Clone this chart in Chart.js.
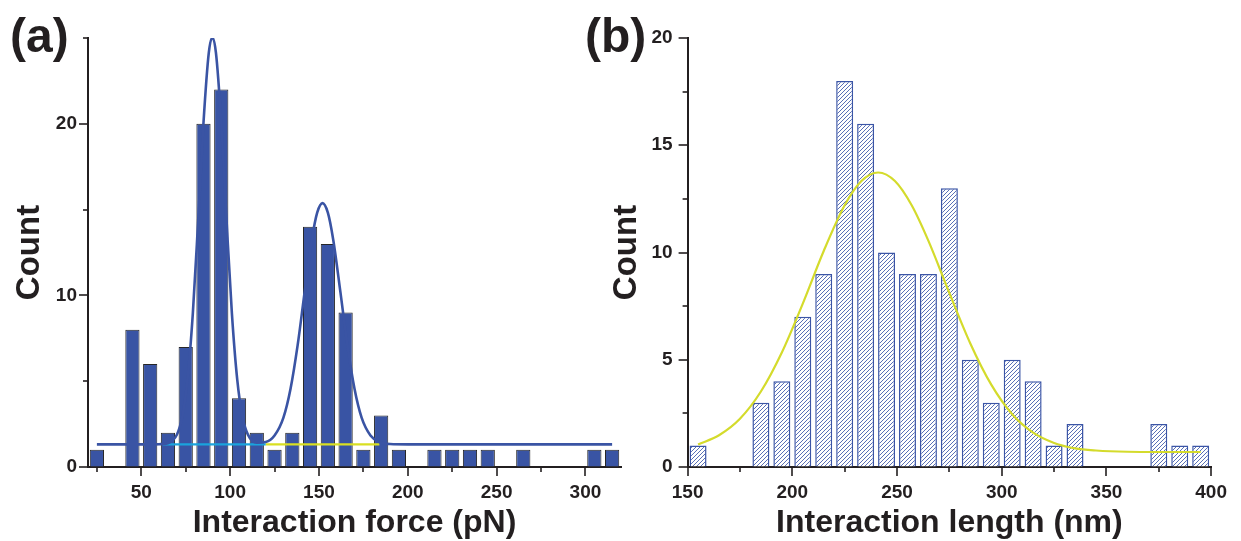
<!DOCTYPE html>
<html>
<head>
<meta charset="utf-8">
<script src="https://cdn.jsdelivr.net/npm/chart.js@4.4.1/dist/chart.umd.min.js"></script>
<style>
  body { margin: 0; background: #fff; width: 1241px; height: 541px; overflow: hidden; position: relative; }
  .panel { position: absolute; top: 0; }
  .tag { position: absolute; top: 12px; font: bold 48px/48px "Liberation Sans", Arial, sans-serif; color: #231f20; }
</style>
</head>
<body>
<canvas id="forceChart" class="panel" style="left:0" width="640" height="541"></canvas>
<canvas id="lengthChart" class="panel" style="left:595px" width="646" height="541"></canvas>
<div class="tag" style="left:10px">(a)</div>
<div class="tag" style="left:585px">(b)</div>
<script>
// (a) interaction force histogram, 10 pN bins (bin centres)
const forceBins = [25, 35, 45, 55, 65, 75, 85, 95, 105, 115, 125, 135, 145, 155, 165,
                   175, 185, 195, 205, 215, 225, 235, 245, 255, 265, 275, 285, 295, 305, 315];
const forceCounts = [1, 0, 8, 6, 2, 7, 20, 22, 4, 2, 1, 2, 14, 13, 9,
                     1, 3, 1, 0, 1, 1, 1, 1, 0, 1, 0, 0, 0, 1, 1];
// two-peak fit curve
const forceFitX = [25, 55, 60, 65, 70, 73, 76, 79, 82, 85, 88, 90, 92, 95, 98, 101, 104, 107, 110, 115,
                   120, 125, 130, 134, 138, 142, 146, 149, 152, 155, 158, 162, 166, 170, 174, 179, 184, 190, 200, 315];
const forceFitY = [1.32, 1.32, 1.33, 1.39, 1.88, 2.90, 5.09, 8.94, 14.33, 20.06, 24.15, 25.02, 24.15, 20.06, 14.33, 8.94, 5.09, 2.90, 1.89, 1.42,
                   1.46, 1.84, 2.88, 4.56, 7.10, 10.25, 13.26, 14.82, 15.38, 14.82, 13.26, 10.25, 7.10, 4.56, 2.88, 1.84, 1.46, 1.34, 1.32, 1.32];
// component baselines (cyan, yellow)
const peak1BaseX = [62, 120];
const peak1BaseY = [1.32, 1.32];
const peak2BaseX = [120, 184];
const peak2BaseY = [1.32, 1.32];
const forceTicks = [25, 50, 75, 100, 125, 150, 175, 200, 225, 250, 275, 300];

// (b) interaction length histogram, 10 nm bins
const lengthBins = [155, 165, 175, 185, 195, 205, 215, 225, 235, 245, 255, 265, 275,
                    285, 295, 305, 315, 325, 335, 345, 355, 365, 375, 385, 395];
const lengthCounts = [1, 0, 0, 3, 4, 7, 9, 18, 16, 10, 9, 9, 13,
                      5, 3, 5, 4, 1, 2, 0, 0, 0, 2, 1, 1];
const lengthFitX = [155, 165, 175, 185, 195, 205, 215, 225, 233, 241, 249, 257, 265, 275, 285, 295,
                    305, 315, 325, 335, 345, 360, 375, 395];
const lengthFitY = [1.05, 1.48, 2.25, 3.52, 5.34, 7.62, 10.07, 12.20, 13.33, 13.73, 13.33, 12.20, 10.54, 8.11, 5.76, 3.84,
                    2.46, 1.60, 1.12, 0.87, 0.77, 0.71, 0.70, 0.70];
const lengthTicks = [150, 175, 200, 225, 250, 275, 300, 325, 350, 375, 400];

const ink = '#231f20';
Chart.defaults.font.family = '"Liberation Sans", Arial, sans-serif';
Chart.defaults.color = ink;

const pts = (xs, ys) => xs.map((x, i) => ({ x: x, y: ys[i] }));

// short ticks for unlabelled values, long ones for labelled
const tickMarks = {
  id: 'tickMarks',
  afterDraw(chart) {
    const ctx = chart.ctx;
    ctx.save();
    ctx.strokeStyle = ink;
    ctx.lineWidth = 1.6;
    Object.values(chart.scales).forEach(scale => {
      scale.ticks.forEach(t => {
        const len = t.label === '' ? 5 : 9;
        const p = Math.round(scale.getPixelForValue(t.value));
        ctx.beginPath();
        if (scale.isHorizontal()) {
          ctx.moveTo(p, scale.top);
          ctx.lineTo(p, scale.top + len);
        } else {
          ctx.moveTo(scale.right, p);
          ctx.lineTo(scale.right - len, p);
        }
        ctx.stroke();
      });
    });
    ctx.restore();
  }
};

function hatch() {
  const c = document.createElement('canvas');
  c.width = 4; c.height = 4;
  const g = c.getContext('2d');
  g.fillStyle = '#fff';
  g.fillRect(0, 0, 4, 4);
  g.strokeStyle = '#4660ae';
  g.lineWidth = 0.9;
  g.beginPath();
  g.moveTo(0, 4); g.lineTo(4, 0);
  g.moveTo(-1, 1); g.lineTo(1, -1);
  g.moveTo(3, 5); g.lineTo(5, 3);
  g.stroke();
  return g.createPattern(c, 'repeat');
}

function xAxis(min, max, tickList, title) {
  return {
    type: 'linear', min: min, max: max, offset: false,
    afterBuildTicks: s => { s.ticks = tickList.map(v => ({ value: v })); },
    afterFit: s => { s.height = 74; },
    grid: { drawOnChartArea: false, drawTicks: false },
    border: { color: ink, width: 2 },
    ticks: {
      autoSkip: false, maxRotation: 0, padding: 14,
      font: { size: 19, weight: 'bold' },
      callback: v => (v % 50 === 0 ? String(v) : '')
    },
    title: { display: true, text: title, font: { size: 32, weight: 'bold', lineHeight: 1.1 }, padding: { top: 0, bottom: 0 } }
  };
}

function yAxis(max, step, labelEvery, width, labelPad, titlePad) {
  return {
    min: 0, max: max,
    afterFit: s => { s.width = width; },
    grid: { drawOnChartArea: false, drawTicks: false },
    border: { color: ink, width: 2 },
    ticks: {
      stepSize: step, autoSkip: false, padding: labelPad,
      font: { size: 19, weight: 'bold' },
      callback: v => (v % labelEvery === 0 ? String(v) : '')
    },
    title: { display: true, text: 'Count', font: { size: 33, weight: 'bold' }, padding: { top: titlePad, bottom: 0 } }
  };
}

const common = {
  responsive: false,
  animation: false,
  plugins: { legend: { display: false }, tooltip: { enabled: false } },
  elements: { point: { radius: 0 } }
};

new Chart(document.getElementById('forceChart'), {
  type: 'bar',
  data: {
    datasets: [
      {
        type: 'line', data: pts(forceFitX, forceFitY), borderColor: '#3a54a4', borderWidth: 2.6,
        cubicInterpolationMode: 'monotone', order: 1
      },
      { type: 'line', data: pts(peak1BaseX, peak1BaseY), borderColor: '#1aa3dd', borderWidth: 2.2, order: 2 },
      { type: 'line', data: pts(peak2BaseX, peak2BaseY), borderColor: '#d9df22', borderWidth: 2.2, order: 2 },
      {
        data: pts(forceBins, forceCounts), backgroundColor: '#3954a4', borderColor: '#262626', borderWidth: 1,
        categoryPercentage: 1, barPercentage: 0.8, order: 3
      }
    ]
  },
  options: Object.assign({}, common, {
    layout: { padding: { top: 38, right: 19, bottom: 0, left: 0 } },
    scales: {
      x: xAxis(20, 320, forceTicks, 'Interaction force (pN)'),
      y: yAxis(25, 5, 10, 88, 11, 10)
    }
  }),
  plugins: [tickMarks]
});

new Chart(document.getElementById('lengthChart'), {
  type: 'bar',
  data: {
    datasets: [
      {
        type: 'line', data: pts(lengthFitX, lengthFitY), borderColor: '#d4db2c', borderWidth: 2.2,
        cubicInterpolationMode: 'monotone', order: 1
      },
      {
        data: pts(lengthBins, lengthCounts), backgroundColor: hatch(), borderColor: '#3b55a6', borderWidth: 1.5,
        categoryPercentage: 1, barPercentage: 0.81, order: 2
      }
    ]
  },
  options: Object.assign({}, common, {
    layout: { padding: { top: 38, right: 20.5, bottom: 0, left: 0 } },
    scales: {
      x: xAxis(150, 400, lengthTicks, 'Interaction length (nm)'),
      y: yAxis(20, 2.5, 5, 92.6, 15, 12)
    }
  }),
  plugins: [tickMarks]
});
</script>
</body>
</html>
